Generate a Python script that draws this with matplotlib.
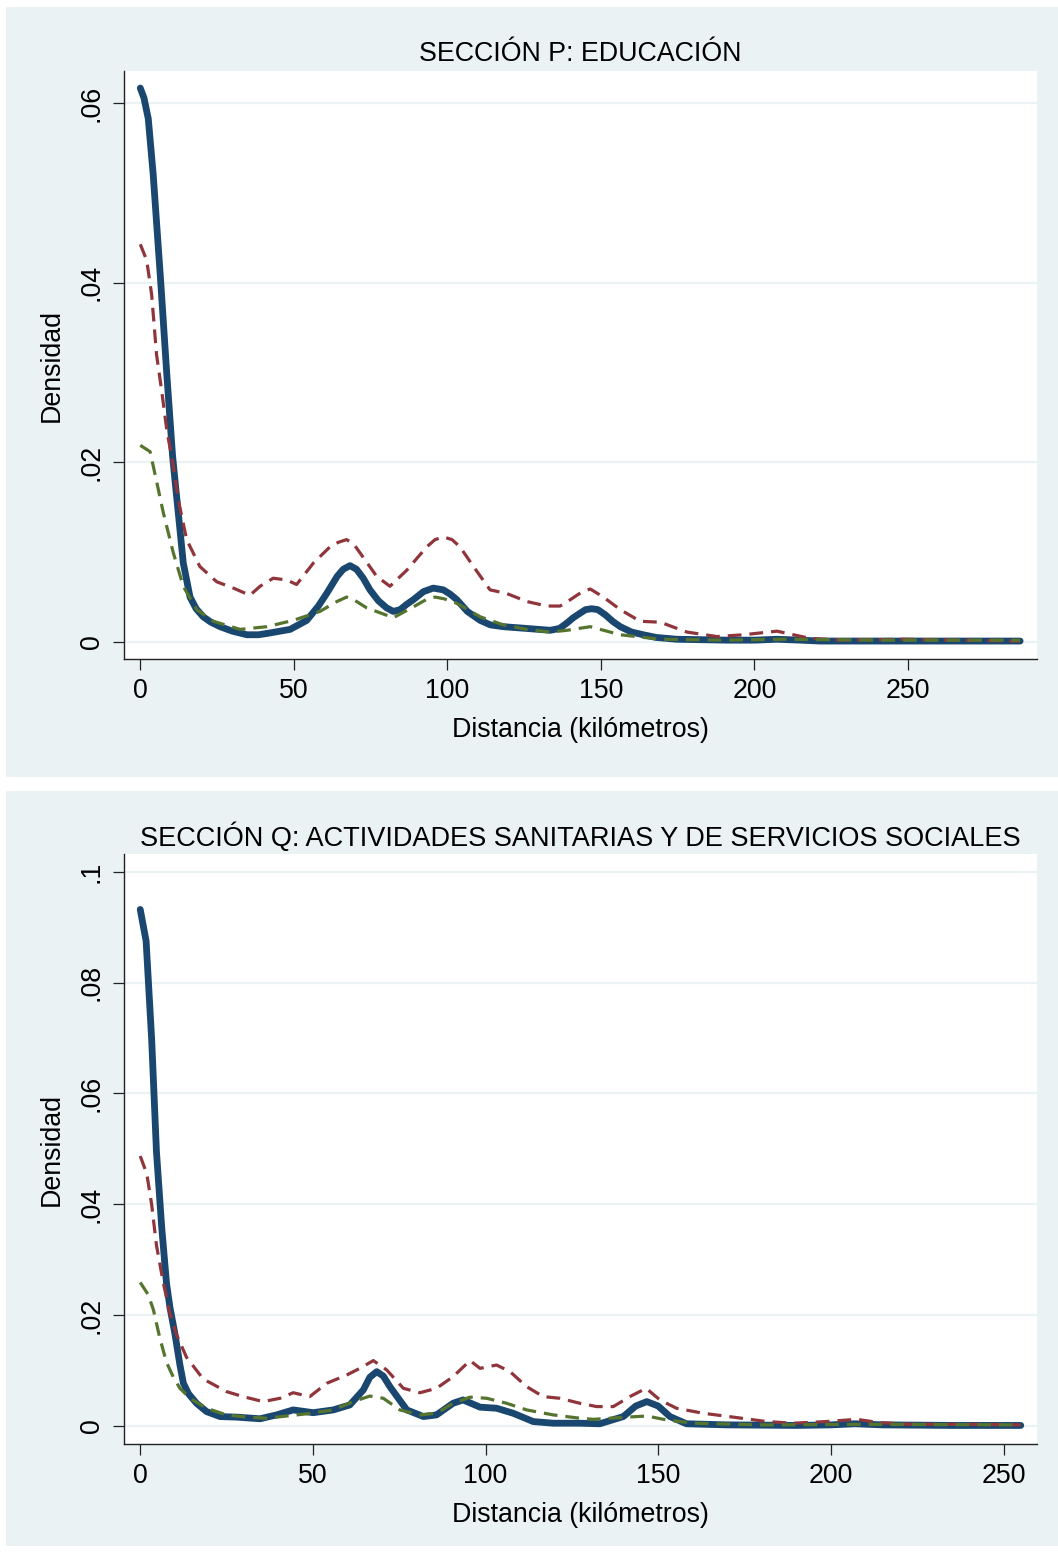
import matplotlib
matplotlib.use("Agg")
import matplotlib.pyplot as plt
from matplotlib.patches import Rectangle

plt.rcParams['font.family'] = ['Liberation Sans', 'DejaVu Sans']

# --- Sección P: educación ---
p_s1_km = [0, 1.2, 2.6, 4.2, 6.6, 8.6, 10.5, 11.3, 12.4, 14.0, 16.2, 18.2, 20.5, 23, 26.0,
           30, 34.7, 38.5, 42.2, 48.8, 54.2, 58, 60.7, 64.1, 66.1, 68.3, 70.4, 72.6, 74.8,
           77.5, 80.2, 82.4, 84.6, 86.8, 88.9, 92.2, 95.4, 98.7, 101, 103.1, 106.5, 110.7,
           114, 118.2, 125.9, 133.5, 136.5, 138.9, 141, 143.2, 145, 147.0, 149, 151.5,
           153.8, 156.3, 160, 163.8, 168, 174.7, 191, 200, 207.3, 215, 221.3, 240, 260,
           286.5]
p_s1_dens = [0.0617, 0.0606, 0.0583, 0.0521, 0.0404, 0.0300, 0.0208, 0.0180, 0.0143, 0.0088,
             0.0050, 0.0037, 0.0028, 0.0022, 0.0017, 0.0012, 0.0008, 0.0008, 0.0010, 0.0014,
             0.0024, 0.0040, 0.0054, 0.0073, 0.0081, 0.0085, 0.0081, 0.0071, 0.0058, 0.0046,
             0.0038, 0.0034, 0.0036, 0.0042, 0.0047, 0.0056, 0.0060, 0.0058, 0.0053, 0.0047,
             0.0034, 0.0024, 0.0019, 0.0017, 0.0015, 0.0013, 0.0015, 0.0021, 0.0027, 0.0032,
             0.0036, 0.0037, 0.0036, 0.0030, 0.0023, 0.0017, 0.0011, 0.0008, 0.0005, 0.0003,
             0.0002, 0.0002, 0.0003, 0.0002, 0.0001, 0.0001, 0.0001, 0.0001]

p_s2_km = [0, 2.1, 3.7, 5.3, 7.0, 8.6, 10.8, 12.4, 15.1, 19.4, 24.9, 30.3, 35.7, 39.0, 43.3,
           47.7, 50.9, 56.4, 61.8, 64.5, 67.2, 69.5, 71.6, 77.0, 81.3, 86.8, 93.3, 96,
           98.7, 101.5, 104.1, 108.5, 113.9, 119.3, 125.9, 132.4, 136.7, 140, 143.5, 146.5,
           150.8, 156.3, 162.8, 169.3, 178, 187.8, 196.4, 207.3, 218.1, 229, 248.5, 265,
           286.5]
p_s2_dens = [0.0443, 0.0425, 0.0387, 0.0320, 0.0279, 0.0237, 0.0195, 0.0158, 0.0114, 0.0084,
             0.0067, 0.0060, 0.0052, 0.0062, 0.0071, 0.0069, 0.0064, 0.0088, 0.0106, 0.0111,
             0.0114, 0.0109, 0.0099, 0.0073, 0.0062, 0.0080, 0.0106, 0.0114, 0.0117, 0.0114,
             0.0106, 0.0084, 0.0058, 0.0054, 0.0045, 0.0040, 0.0040, 0.0047, 0.0055, 0.0059,
             0.0050, 0.0036, 0.0023, 0.0022, 0.0011, 0.0006, 0.0008, 0.0012, 0.0004, 0.0002,
             0.0003, 0.0002, 0.0001]

p_s3_km = [0, 3.2, 5.3, 7.5, 10.7, 14.0, 18.4, 23.8, 32.5, 41.2, 49.8, 58.5, 64, 67.2, 70,
           73.7, 82.4, 88.9, 93, 96.0, 99, 103.1, 110.7, 118.2, 125.9, 133.5, 139, 146.5,
           156.3, 169.3, 190, 210, 240, 286.5]
p_s3_dens = [0.0219, 0.0212, 0.0179, 0.0144, 0.0100, 0.0062, 0.0036, 0.0023, 0.0014, 0.0017,
             0.0024, 0.0034, 0.0045, 0.0050, 0.0046, 0.0038, 0.0027, 0.0039, 0.0047, 0.0050,
             0.0048, 0.0043, 0.0028, 0.0019, 0.0014, 0.0011, 0.0013, 0.0017, 0.0008, 0.0003,
             0.0002, 0.0003, 0.0002, 0.0002]

# --- Sección Q: actividades sanitarias ---
q_s1_km = [0, 1.7, 3.3, 4.7, 6.2, 7.6, 8.6, 10.0, 11.5, 12.5, 14, 16.3, 19.2, 23.1, 27.9,
           34.7, 39.5, 44.3, 50.1, 55.9, 60.7, 64.6, 66.5, 68.5, 70.4, 72.3, 77.2, 82, 85.8,
           90.6, 93.5, 98.4, 103.2, 108, 113.8, 119.6, 127.3, 133.1, 139.9, 143.5, 146.7,
           150, 153.4, 158.2, 170, 190, 200, 207, 215, 235, 255]
q_s1_dens = [0.0932, 0.0875, 0.0699, 0.0495, 0.0360, 0.0258, 0.0214, 0.0168, 0.0110, 0.0077,
             0.0058, 0.0041, 0.0026, 0.0017, 0.0016, 0.0013, 0.0020, 0.0029, 0.0024, 0.0029,
             0.0038, 0.0065, 0.0088, 0.0098, 0.0090, 0.0071, 0.0029, 0.0017, 0.0020, 0.0041,
             0.0047, 0.0034, 0.0032, 0.0023, 0.0008, 0.0005, 0.0005, 0.0004, 0.0017, 0.0036,
             0.0044, 0.0036, 0.0017, 0.0004, 0.0002, 0.0001, 0.0002, 0.0004, 0.0002, 0.0001,
             0.0001]

q_s2_km = [0, 1.9, 3.3, 4.7, 6.7, 8.6, 10.5, 13.4, 18.2, 25, 29.8, 35.6, 40.5, 44.3, 49.1,
           54, 59.8, 63.6, 67.5, 71.4, 76.2, 81, 85.8, 90.6, 95.5, 98.4, 103.2, 107.1, 111.9,
           116.7, 121.5, 127.3, 132.2, 137, 141.8, 146.5, 150.5, 155.3, 163, 171.7, 181.4,
           189.1, 198.8, 207.5, 214.2, 222.9, 240, 255]
q_s2_dens = [0.0487, 0.0455, 0.0400, 0.0326, 0.0258, 0.0203, 0.0165, 0.0124, 0.0085, 0.0062,
             0.0053, 0.0044, 0.0050, 0.0060, 0.0053, 0.0077, 0.0092, 0.0104, 0.0118, 0.0101,
             0.0068, 0.0060, 0.0068, 0.0089, 0.0118, 0.0104, 0.0110, 0.0098, 0.0071, 0.0053,
             0.0050, 0.0041, 0.0035, 0.0035, 0.0053, 0.0068, 0.0047, 0.0032, 0.0023, 0.0016,
             0.0008, 0.0005, 0.0008, 0.0012, 0.0006, 0.0003, 0.0003, 0.0002]

q_s3_km = [0, 2.3, 3.8, 5.7, 7.6, 9.6, 11.5, 14.4, 19.2, 25, 30.8, 36.6, 42.4, 48.2, 55.9,
           61.7, 66.5, 70.4, 75.2, 81, 85.8, 90.6, 95.5, 100.3, 106.1, 111.9, 119.6, 127.3,
           131.2, 140.9, 146.7, 152.4, 160.2, 180, 210, 255]
q_s3_dens = [0.0259, 0.0237, 0.0210, 0.0158, 0.0115, 0.0088, 0.0068, 0.0050, 0.0032, 0.0020,
             0.0016, 0.0014, 0.0018, 0.0022, 0.0029, 0.0044, 0.0054, 0.0050, 0.0029, 0.0020,
             0.0023, 0.0041, 0.0052, 0.0050, 0.0041, 0.0029, 0.0020, 0.0014, 0.0012, 0.0016,
             0.0018, 0.0011, 0.0005, 0.0002, 0.0003, 0.0002]

p_yticks = [0, 0.02, 0.04, 0.06]
p_ylabels = ["0", ".02", ".04", ".06"]
q_yticks = [0, 0.02, 0.04, 0.06, 0.08, 0.1]
q_ylabels = ["0", ".02", ".04", ".06", ".08", ".1"]
p_xticks = [0, 50, 100, 150, 200, 250]
q_xticks = [0, 50, 100, 150, 200, 250]

BG = "#EAF2F3"
NAVY = "#1A476F"
MAROON = "#90353B"
GREEN = "#55752F"
FS = 19.3

W, H = 1058, 1553
fig = plt.figure(figsize=(W / 100, H / 100), dpi=100)


def px_rect(x0, y0, x1, y1):
    return (x0 / W, 1 - y1 / H, (x1 - x0) / W, (y1 - y0) / H)


# panel backgrounds, behind the axes
for y0, y1 in [(7, 777), (791, 1546)]:
    l, b, w, h = px_rect(6, y0, 1058, y1)
    fig.patches.append(Rectangle((l, b), w, h, transform=fig.transFigure,
                                 facecolor=BG, edgecolor="none", zorder=-5))


def panel(rect, title, series, xlim, ylim, yticks, ylabels, xticks, tpad, tsize):
    ax = fig.add_axes(px_rect(*rect))
    ax.set_facecolor("white")
    for yt in yticks:
        ax.axhline(yt, color=BG, lw=1.6, zorder=1)
    (x1, y1), (x2, y2), (x3, y3) = series
    ax.plot(x1, y1, color=NAVY, lw=4.9, solid_capstyle="round",
            solid_joinstyle="round", zorder=3)
    ax.plot(x2, y2, color=MAROON, lw=2.3, dashes=(4.3, 2.5),
            dash_capstyle="butt", zorder=4)
    ax.plot(x3, y3, color=GREEN, lw=2.3, dashes=(4.3, 2.5),
            dash_capstyle="butt", zorder=5)
    ax.set_xlim(*xlim)
    ax.set_ylim(*ylim)
    ax.set_xticks(xticks)
    ax.set_yticks(yticks)
    ax.set_yticklabels(ylabels, rotation=90, va="center")
    for s in ["top", "right"]:
        ax.spines[s].set_visible(False)
    for s in ["left", "bottom"]:
        ax.spines[s].set_linewidth(1.0)
        ax.spines[s].set_color("#222222")
    ax.tick_params(direction="out", length=8, width=0.9, color="#222222",
                   labelsize=FS, pad=6)
    ax.set_title(title, fontsize=tsize, pad=tpad)
    ax.set_xlabel("Distancia (kilómetros)", fontsize=FS, labelpad=9)
    ax.set_ylabel("Densidad", fontsize=FS, labelpad=10)
    return ax


panel((124, 71, 1037, 659), "SECCIÓN P: EDUCACIÓN",
      [(p_s1_km, p_s1_dens), (p_s2_km, p_s2_dens), (p_s3_km, p_s3_dens)],
      (-5.3, 292), (-0.0019, 0.0636), p_yticks, p_ylabels, p_xticks, 7, FS)

panel((124, 854, 1037, 1444),
      "SECCIÓN Q: ACTIVIDADES SANITARIAS Y DE SERVICIOS SOCIALES",
      [(q_s1_km, q_s1_dens), (q_s2_km, q_s2_dens), (q_s3_km, q_s3_dens)],
      (-4.7, 259.7), (-0.00325, 0.1032), q_yticks, q_ylabels, q_xticks, 6, 19.5)

fig.savefig("out.png", dpi=100, facecolor="white")
